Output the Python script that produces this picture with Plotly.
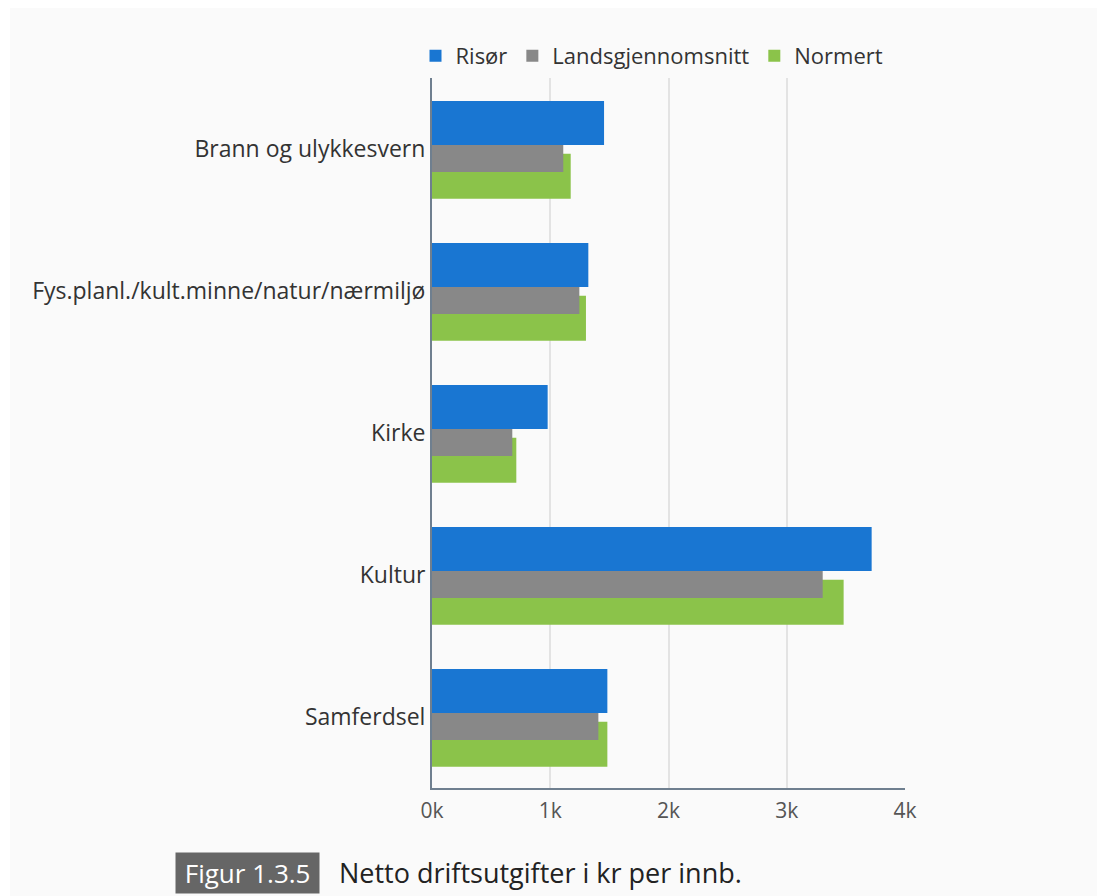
import plotly.graph_objects as go

# Netto driftsutgifter i kr per innbygger
categories = [
    "Brann og ulykkesvern",
    "Fys.planl./kult.minne/natur/nærmiljø",
    "Kirke",
    "Kultur",
    "Samferdsel",
]
risor = [1455, 1322, 978, 3718, 1483]
landsgjennomsnitt = [1110, 1246, 679, 3304, 1407]
normert = [1173, 1302, 713, 3481, 1483]

x_tickvals = [0, 1000, 2000, 3000, 4000]
x_ticktext = ["0k", "1k", "2k", "3k", "4k"]

W, H = 1097, 896
L, R, T, B = 432, 905, 78, 788  # plot area in pixels


def px(x):
    return (x - L) / (R - L)


def py(y):
    return (B - y) / (B - T)


FONT = "Open Sans"

fig = go.Figure()

fig.add_trace(go.Bar(
    name="Risør", y=categories, x=risor, orientation="h",
    marker=dict(color="#1976d2", line=dict(width=0)),
    offset=-0.338, width=0.31, legendrank=1,
))
fig.add_trace(go.Bar(
    name="Normert", y=categories, x=normert, orientation="h",
    marker=dict(color="#8bc34a", line=dict(width=0)),
    offset=0.033, width=0.318, legendrank=3,
))
fig.add_trace(go.Bar(
    name="Landsgjennomsnitt", y=categories, x=landsgjennomsnitt, orientation="h",
    marker=dict(color="#888888", line=dict(width=0)),
    offset=-0.028, width=0.19, legendrank=2,
))

fig.update_layout(
    width=W, height=H,
    margin=dict(l=L, r=W - R, t=T, b=H - B, pad=0),
    barmode="overlay",
    paper_bgcolor="#ffffff",
    plot_bgcolor="rgba(0,0,0,0)",
    font=dict(family=FONT, color="#333333"),
    legend=dict(
        orientation="h", x=px(652), xanchor="center", y=py(56), yanchor="middle",
        font=dict(size=22, color="#333333"), bgcolor="rgba(0,0,0,0)",
        traceorder="normal", itemwidth=30,
    ),
    xaxis=dict(
        range=[0, 4000], tickvals=x_tickvals, ticktext=x_ticktext,
        showgrid=True, gridcolor="#e3e3e3", gridwidth=1.5,
        showline=True, linecolor="#6f7f8f", linewidth=2,
        zeroline=False, ticks="", ticklabelstandoff=3,
        tickfont=dict(size=21, color="#555555"),
    ),
    yaxis=dict(
        categoryorder="array", categoryarray=categories, autorange="reversed",
        showgrid=False, showline=True, linecolor="#6f7f8f", linewidth=2,
        ticks="", ticklabelstandoff=0,
        tickfont=dict(size=23, color="#333333"),
    ),
    shapes=[
        dict(type="rect", xref="paper", yref="paper", layer="below",
             x0=px(10), x1=px(W + 5), y0=py(H + 5), y1=py(8),
             fillcolor="#fafafa", line=dict(width=0)),
    ],
    annotations=[
        dict(xref="paper", yref="paper", x=px(175), y=py(894),
             xanchor="left", yanchor="bottom", showarrow=False,
             text="\u00a0Figur 1.3.5\u00a0", bgcolor="#666666", borderpad=2,
             font=dict(family=FONT, size=26, color="#ffffff")),
        dict(xref="paper", yref="paper", x=px(336), y=py(894),
             xanchor="left", yanchor="bottom", showarrow=False,
             text="Netto driftsutgifter i kr per innb.", borderpad=2,
             font=dict(family=FONT, size=27, color="#222222")),
    ],
)

fig.write_html("out.html")
